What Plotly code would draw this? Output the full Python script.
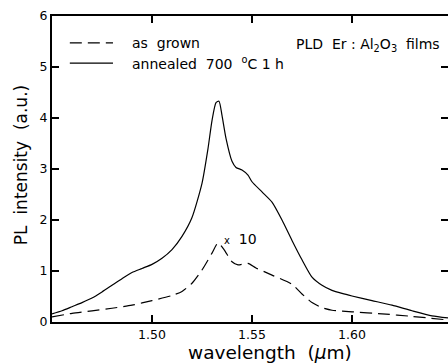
import plotly.graph_objects as go

wl_annealed = [1.45, 1.455, 1.46, 1.465, 1.47, 1.475, 1.48, 1.485, 1.49, 1.495, 1.50, 1.505,
               1.51, 1.515, 1.52, 1.525, 1.528, 1.53, 1.532, 1.5335, 1.535, 1.537, 1.54,
               1.542, 1.545, 1.548, 1.55, 1.555, 1.56, 1.565, 1.57, 1.575, 1.58, 1.585,
               1.59, 1.595, 1.60, 1.61, 1.62, 1.63, 1.64, 1.648]
pl_annealed = [0.16, 0.22, 0.30, 0.38, 0.47, 0.59, 0.72, 0.85, 0.97, 1.05, 1.13, 1.25,
               1.42, 1.68, 2.05, 2.72, 3.4, 3.95, 4.3, 4.33, 4.05, 3.6, 3.15,
               3.03, 2.98, 2.88, 2.75, 2.55, 2.35, 2.0, 1.6, 1.22, 0.88, 0.72,
               0.62, 0.56, 0.51, 0.42, 0.33, 0.22, 0.12, 0.08]

wl_grown = [1.45, 1.46, 1.47, 1.48, 1.49, 1.50, 1.51, 1.515, 1.52, 1.525, 1.53, 1.533,
            1.536, 1.54, 1.543, 1.548, 1.552, 1.56, 1.57, 1.575, 1.58, 1.585, 1.59,
            1.60, 1.615, 1.63, 1.648]
pl_grown = [0.10, 0.17, 0.22, 0.27, 0.33, 0.42, 0.52, 0.60, 0.76, 1.02, 1.35, 1.55,
            1.42, 1.18, 1.12, 1.15, 1.06, 0.92, 0.74, 0.55, 0.38, 0.28, 0.23,
            0.20, 0.16, 0.11, 0.04]

series_names = ["as  grown", "annealed  700  <sup>o</sup>C 1 h"]
x_ticks = [1.50, 1.55, 1.60]
x_tick_labels = ["1.50", "1.55", "1.60"]
y_ticks = [0, 1, 2, 3, 4, 5, 6]

FONT = "DejaVu Sans, Liberation Sans, sans-serif"
DASH = "12px,6px"

fig = go.Figure()
fig.add_trace(go.Scatter(x=wl_grown, y=pl_grown, mode="lines", name=series_names[0],
                         showlegend=False,
                         line=dict(color="black", width=1.2, dash=DASH, shape="spline", smoothing=0.6)))
fig.add_trace(go.Scatter(x=wl_annealed, y=pl_annealed, mode="lines", name=series_names[1],
                         showlegend=False,
                         line=dict(color="black", width=1.2, shape="spline", smoothing=0.6)))
# invisible trace for right-side mirrored ticks
fig.add_trace(go.Scatter(x=[1.45], y=[0], yaxis="y2", showlegend=False,
                         mode="markers", marker=dict(opacity=0), hoverinfo="skip"))

# hand-made legend (keys in paper coordinates)
legend_y = [0.912, 0.846]
legend_dash = [DASH, "solid"]
for name, ly, d in zip(series_names, legend_y, legend_dash):
    fig.add_shape(type="line", xref="paper", yref="paper", x0=0.045, x1=0.154, y0=ly, y1=ly,
                  line=dict(color="black", width=1.2, dash=d))
    fig.add_annotation(x=0.197, y=ly, xref="paper", yref="paper", text=name,
                       showarrow=False, xanchor="left", yanchor="middle",
                       font=dict(family=FONT, size=14, color="black"))

fig.add_annotation(x=1.5348, y=1.62, text="<span style='font-size:10px'>x</span>  10",
                   showarrow=False, xanchor="left", yanchor="middle",
                   font=dict(family=FONT, size=14, color="black"))
fig.add_annotation(x=0.985, y=0.905, xref="paper", yref="paper",
                   text="PLD  Er : Al<sub>2</sub>O<sub>3</sub>  films",
                   showarrow=False, xanchor="right", yanchor="middle",
                   font=dict(family=FONT, size=14, color="black"))

# axis titles
fig.add_annotation(x=0.55, y=-0.101, xref="paper", yref="paper",
                   text="wavelength  (<i>μ</i>m)", showarrow=False,
                   xanchor="center", yanchor="middle",
                   font=dict(family=FONT, size=18.5, color="black"))
fig.add_annotation(x=-0.078, y=0.513, xref="paper", yref="paper",
                   text="PL  intensity  (a.u.)", showarrow=False, textangle=-90,
                   xanchor="center", yanchor="middle",
                   font=dict(family=FONT, size=17, color="black"))

fig.update_layout(
    width=448, height=364,
    margin=dict(l=52, r=0, t=16, b=42, autoexpand=False),
    paper_bgcolor="white", plot_bgcolor="white",
    font=dict(family=FONT, size=12.5, color="black"),
    showlegend=False,
    xaxis=dict(range=[1.45, 1.648], tickvals=x_ticks, ticktext=x_tick_labels,
               ticks="inside", ticklen=7, tickwidth=1.5, tickcolor="black",
               showline=True, linecolor="black", linewidth=2, mirror="ticks",
               showgrid=False, zeroline=False, automargin=False),
    yaxis=dict(range=[0, 6], tickvals=y_ticks, ticks="inside", ticklen=7, tickwidth=1.5,
               tickcolor="black", showline=True, linecolor="black", linewidth=2,
               showgrid=False, zeroline=False, automargin=False),
    yaxis2=dict(range=[0, 6], overlaying="y", side="right", tickvals=y_ticks,
                ticks="inside", ticklen=7, tickwidth=1.5, tickcolor="black",
                showticklabels=False, showline=False, showgrid=False, zeroline=False,
                automargin=False),
)

fig.write_html("out.html", config={"displayModeBar": False},
               post_script="document.body.style.margin='0px';")
